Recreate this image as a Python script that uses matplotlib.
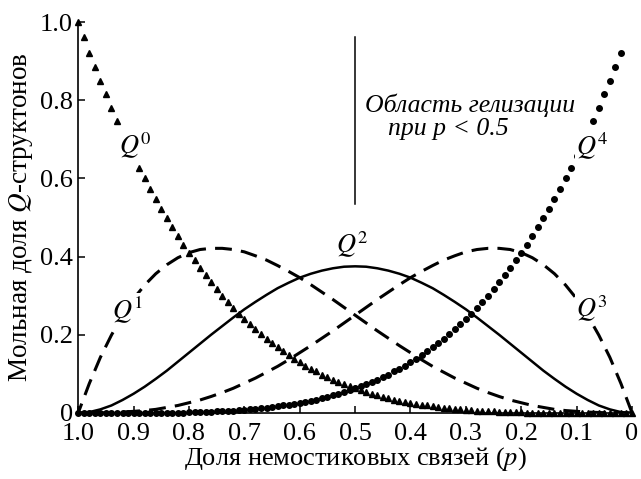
import numpy as np
import matplotlib
matplotlib.use("Agg")
import matplotlib.pyplot as plt

plt.rcParams['font.family'] = ['Liberation Serif', 'DejaVu Serif']
plt.rcParams['mathtext.fontset'] = 'stix'

# fraction of non-bridging bonds, markers every 0.01
p_fine = np.linspace(0.0, 1.0, 101)
# Q0 (triangles), read at p = 0.00 ... 1.00
q0 = [0.000, 0.000, 0.000, 0.000, 0.000, 0.000, 0.000, 0.000, 0.000, 0.000,
      0.000, 0.000, 0.000, 0.000, 0.000, 0.001, 0.001, 0.001, 0.001, 0.001,
      0.002, 0.002, 0.002, 0.003, 0.003, 0.004, 0.005, 0.005, 0.006, 0.007,
      0.008, 0.009, 0.010, 0.012, 0.013, 0.015, 0.017, 0.019, 0.021, 0.023,
      0.026, 0.028, 0.031, 0.034, 0.037, 0.041, 0.045, 0.049, 0.053, 0.058,
      0.063, 0.068, 0.073, 0.079, 0.085, 0.092, 0.098, 0.106, 0.113, 0.121,
      0.130, 0.138, 0.148, 0.158, 0.168, 0.179, 0.190, 0.202, 0.214, 0.227,
      0.240, 0.254, 0.269, 0.284, 0.300, 0.316, 0.334, 0.352, 0.370, 0.390,
      0.410, 0.430, 0.452, 0.475, 0.498, 0.522, 0.547, 0.573, 0.600, 0.627,
      0.656, 0.686, 0.716, 0.748, 0.781, 0.815, 0.849, 0.885, 0.922, 0.961,
      1.000]
# Q4 (dots), read at p = 0.00 ... 1.00 (first two points not drawn)
q4 = [np.nan, np.nan, 0.922, 0.885, 0.849, 0.815, 0.781, 0.748, 0.716, 0.686,
      0.656, 0.627, 0.600, 0.573, 0.547, 0.522, 0.498, 0.475, 0.452, 0.430,
      0.410, 0.390, 0.370, 0.352, 0.334, 0.316, 0.300, 0.284, 0.269, 0.254,
      0.240, 0.227, 0.214, 0.202, 0.190, 0.179, 0.168, 0.158, 0.148, 0.138,
      0.130, 0.121, 0.113, 0.106, 0.098, 0.092, 0.085, 0.079, 0.073, 0.068,
      0.063, 0.058, 0.053, 0.049, 0.045, 0.041, 0.037, 0.034, 0.031, 0.028,
      0.026, 0.023, 0.021, 0.019, 0.017, 0.015, 0.013, 0.012, 0.010, 0.009,
      0.008, 0.007, 0.006, 0.005, 0.005, 0.004, 0.003, 0.003, 0.002, 0.002,
      0.002, 0.001, 0.001, 0.001, 0.001, 0.001, 0.000, 0.000, 0.000, 0.000,
      0.000, 0.000, 0.000, 0.000, 0.000, 0.000, 0.000, 0.000, 0.000, 0.000,
      0.000]

# smooth curves, read every 0.02
p_line = np.linspace(0.0, 1.0, 51)
q1 = [0.000, 0.000, 0.000, 0.001, 0.002, 0.004, 0.006, 0.009, 0.014, 0.019,
      0.026, 0.033, 0.042, 0.052, 0.063, 0.076, 0.089, 0.104, 0.119, 0.136,
      0.154, 0.172, 0.191, 0.210, 0.230, 0.250, 0.270, 0.290, 0.309, 0.328,
      0.346, 0.362, 0.377, 0.391, 0.402, 0.412, 0.418, 0.421, 0.421, 0.418,
      0.410, 0.397, 0.379, 0.356, 0.327, 0.292, 0.249, 0.199, 0.142, 0.075,
      0.000]
q2 = [0.000, 0.002, 0.009, 0.019, 0.033, 0.049, 0.067, 0.087, 0.108, 0.131,
      0.154, 0.177, 0.200, 0.222, 0.244, 0.265, 0.284, 0.302, 0.319, 0.333,
      0.346, 0.356, 0.364, 0.370, 0.374, 0.375, 0.374, 0.370, 0.364, 0.356,
      0.346, 0.333, 0.319, 0.302, 0.284, 0.265, 0.244, 0.222, 0.200, 0.177,
      0.154, 0.131, 0.108, 0.087, 0.067, 0.049, 0.033, 0.019, 0.009, 0.002,
      0.000]
q3 = [0.000, 0.075, 0.142, 0.199, 0.249, 0.292, 0.327, 0.356, 0.379, 0.397,
      0.410, 0.418, 0.421, 0.421, 0.418, 0.412, 0.402, 0.391, 0.377, 0.362,
      0.346, 0.328, 0.309, 0.290, 0.270, 0.250, 0.230, 0.210, 0.191, 0.172,
      0.154, 0.136, 0.119, 0.104, 0.089, 0.076, 0.063, 0.052, 0.042, 0.033,
      0.026, 0.019, 0.014, 0.009, 0.006, 0.004, 0.002, 0.001, 0.000, 0.000,
      0.000]

xticks = [1.0, 0.9, 0.8, 0.7, 0.6, 0.5, 0.4, 0.3, 0.2, 0.1, 0.0]
xtick_labels = ['1.0', '0.9', '0.8', '0.7', '0.6', '0.5', '0.4', '0.3', '0.2', '0.1', '0']
yticks = [0.0, 0.2, 0.4, 0.6, 0.8, 1.0]
ytick_labels = ['0', '0.2', '0.4', '0.6', '0.8', '1.0']

fig = plt.figure(figsize=(6.41, 4.79), dpi=100)
ax = fig.add_axes([0.122, 0.138, 0.864, 0.816])

dash = (0, (5.5, 3.0))
ax.plot(p_line, q1, color='black', lw=2.2, linestyle=dash)
ax.plot(p_line, q3, color='black', lw=2.2, linestyle=dash)
ax.plot(p_line, q2, color='black', lw=1.8)
ax.plot(p_fine, q0, linestyle='none', marker='^', ms=4.2, color='black', clip_on=False)
ax.plot(p_fine, q4, linestyle='none', marker='o', ms=4.0, color='black', clip_on=False)

# gelation boundary
ax.plot([0.5, 0.5], [0.535, 0.962], color='black', lw=1.1)

lab = dict(fontsize=19, ha='center', va='center',
           bbox=dict(boxstyle='square,pad=0.05', fc='white', ec='none'))
ax.text(0.897, 0.684, r'$Q^{0}$', **lab)
ax.text(0.910, 0.265, r'$Q^{1}$', **lab)
ax.text(0.505, 0.430, r'$Q^{2}$', **lab)
ax.text(0.072, 0.267, r'$Q^{3}$', **lab)
ax.text(0.071, 0.684, r'$Q^{4}$', **lab)

ax.text(0.483, 0.786, 'Область гелизации', fontsize=18.5, style='italic',
        ha='left', va='center',
        bbox=dict(boxstyle='square,pad=0.0', fc='white', ec='none'))
ax.text(0.440, 0.727, 'при p < 0.5', fontsize=18.5, style='italic',
        ha='left', va='center')

ax.set_xlim(1.0, 0.0)
ax.set_ylim(0.0, 1.0)
ax.set_xticks(xticks)
ax.set_xticklabels(xtick_labels)
ax.set_yticks(yticks)
ax.set_yticklabels(ytick_labels)
ax.tick_params(direction='in', length=5, width=1.1, labelsize=19)
ax.tick_params(axis='x', pad=7)
ax.tick_params(axis='y', pad=4)
ax.spines['top'].set_visible(False)
ax.spines['right'].set_visible(False)
ax.spines['left'].set_linewidth(1.2)
ax.spines['bottom'].set_linewidth(1.2)

ax.set_xlabel(r'Доля немостиковых связей ($p$)', fontsize=19, labelpad=0)
ax.set_ylabel(r'Мольная доля $Q$-структонов', fontsize=19.5, labelpad=3)

fig.savefig('out.png', dpi=100)
